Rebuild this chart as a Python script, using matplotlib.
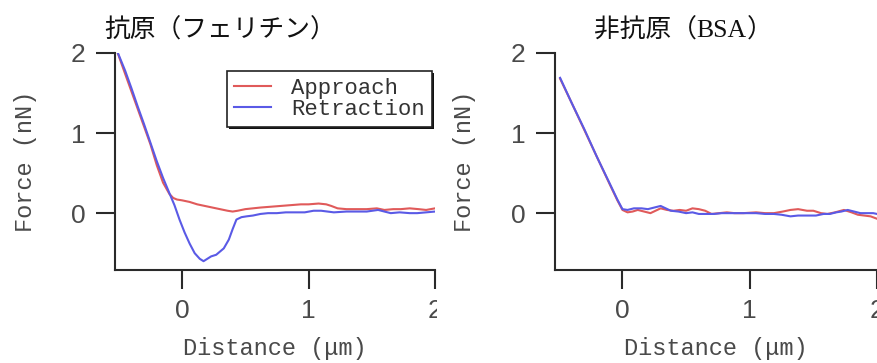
import matplotlib
matplotlib.use("Agg")
import matplotlib.pyplot as plt
from matplotlib.transforms import Bbox
from matplotlib.patches import Rectangle
from matplotlib import font_manager

# ---------------- data ----------------
# Left panel: antigen (ferritin)
appr_x_L = [-0.52, -0.45, -0.4, -0.35, -0.3, -0.25, -0.2, -0.15, -0.1, -0.07, -0.04, 0.0, 0.06, 0.12, 0.18,
            0.24, 0.3, 0.36, 0.40, 0.44, 0.5, 0.56, 0.62, 0.7, 0.78, 0.86, 0.94, 1.0, 1.08, 1.14, 1.18, 1.23,
            1.3, 1.38, 1.46, 1.54, 1.6, 1.67, 1.73, 1.8, 1.87, 1.93, 2.0]
appr_y_L = [2.05, 1.74, 1.52, 1.3, 1.08, 0.86, 0.6, 0.38, 0.24, 0.19, 0.17, 0.16, 0.14, 0.11, 0.09,
            0.07, 0.05, 0.03, 0.02, 0.03, 0.05, 0.06, 0.07, 0.08, 0.09, 0.1, 0.11, 0.11, 0.12, 0.11, 0.09, 0.06,
            0.05, 0.05, 0.05, 0.06, 0.04, 0.05, 0.05, 0.06, 0.05, 0.04, 0.06]
retr_x_L = [-0.52, -0.45, -0.4, -0.35, -0.3, -0.25, -0.2, -0.15, -0.1, -0.06, -0.02, 0.02, 0.06, 0.1, 0.14,
            0.17, 0.2, 0.23, 0.27, 0.3, 0.33, 0.37, 0.40, 0.43, 0.47, 0.51, 0.56, 0.62, 0.68, 0.75, 0.82, 0.9,
            0.97, 1.04, 1.1, 1.2, 1.3, 1.38, 1.46, 1.55, 1.6, 1.65, 1.72, 1.8, 1.86, 1.93, 2.0]
retr_y_L = [2.05, 1.78, 1.56, 1.33, 1.11, 0.88, 0.65, 0.44, 0.25, 0.1, -0.08, -0.24, -0.38, -0.5, -0.57,
            -0.6, -0.57, -0.54, -0.52, -0.48, -0.44, -0.33, -0.2, -0.08, -0.05, -0.04, -0.03, -0.01, 0.0, 0.0,
            0.01, 0.01, 0.01, 0.03, 0.03, 0.01, 0.02, 0.02, 0.02, 0.04, 0.02, 0.0, 0.01, 0.0, 0.0, 0.01, 0.02]

# Right panel: non-antigen (BSA)
appr_x_R = [-0.49, -0.4, -0.3, -0.2, -0.1, -0.04, 0.0, 0.04, 0.08, 0.12, 0.17, 0.22, 0.26, 0.3, 0.35, 0.4,
            0.45, 0.5, 0.55, 0.6, 0.65, 0.7, 0.76, 0.82, 0.88, 0.95, 1.05, 1.12, 1.19, 1.26, 1.32, 1.38, 1.45,
            1.5, 1.56, 1.61, 1.67, 1.74, 1.8, 1.85, 1.9, 1.95, 2.0]
appr_y_R = [1.68, 1.38, 1.04, 0.7, 0.36, 0.16, 0.04, 0.01, 0.02, 0.04, 0.02, 0.0, 0.03, 0.06, 0.04, 0.03,
            0.04, 0.03, 0.06, 0.05, 0.03, -0.01, 0.0, 0.01, 0.0, 0.0, 0.01, 0.0, 0.0, 0.02, 0.04, 0.05, 0.03,
            0.03, 0.0, -0.01, 0.01, 0.04, 0.01, -0.02, -0.03, -0.04, -0.07]
retr_x_R = [-0.49, -0.4, -0.3, -0.2, -0.1, -0.04, 0.0, 0.04, 0.09, 0.15, 0.2, 0.25, 0.3, 0.34, 0.38, 0.44,
            0.5, 0.55, 0.6, 0.66, 0.72, 0.78, 0.84, 0.9, 0.96, 1.05, 1.12, 1.19, 1.25, 1.32, 1.38, 1.45, 1.52,
            1.58, 1.63, 1.68, 1.72, 1.77, 1.82, 1.87, 1.92, 1.97, 2.0]
retr_y_R = [1.69, 1.38, 1.05, 0.7, 0.37, 0.17, 0.05, 0.04, 0.06, 0.06, 0.05, 0.07, 0.09, 0.06, 0.03, 0.02,
            0.0, 0.01, -0.01, -0.01, -0.01, 0.0, 0.0, 0.0, 0.0, 0.0, -0.01, -0.01, -0.02, -0.04, -0.03, -0.03,
            -0.03, -0.01, -0.01, 0.01, 0.02, 0.04, 0.02, 0.0, 0.0, 0.0, -0.01]

x_ticks = [0, 1, 2]
y_ticks = [0, 1, 2]
x_label = "Distance (\u03bcm)"
y_label = "Force (nN)"
legend_labels = ["Approach", "Retraction"]
title_L = "抗原（フェリチン）"
title_R_parts = ["非抗原（", "BSA", "）"]

# ---------------- style ----------------
W, H = 878, 363
RED = "#e05a5a"
BLUE = "#5a5ae6"
AXC = "#2a2a2a"
TXC = "#4a4a4a"
MONO = "Liberation Mono"
CJK = ["Noto Sans CJK JP", "DejaVu Sans"]
available = {f.name for f in font_manager.fontManager.ttflist}
DIGIT = "Liberation Sans Narrow" if "Liberation Sans Narrow" in available else "Liberation Sans"

fig = plt.figure(figsize=(W / 100, H / 100), dpi=100)
fig.patch.set_facecolor("white")


def px_axes(x0, x1, ytop, ybot):
    return fig.add_axes([x0 / W, 1 - ybot / H, (x1 - x0) / W, (ybot - ytop) / H])


def style(ax):
    ax.set_xlim(-0.53, 2.0)
    ax.set_ylim(-0.71, 2.0)
    for s in ["top", "right"]:
        ax.spines[s].set_visible(False)
    for s in ["left", "bottom"]:
        ax.spines[s].set_color(AXC)
        ax.spines[s].set_linewidth(1.5)
    ax.set_xticks(x_ticks)
    ax.set_yticks(y_ticks)
    ax.tick_params(direction="out", length=14, width=1.5, color=AXC,
                   labelcolor=TXC, labelsize=19, pad=7)
    for lab in ax.get_xticklabels() + ax.get_yticklabels():
        lab.set_fontfamily(DIGIT)
    ax.set_xlabel(x_label, fontsize=17, family=MONO, color=TXC)
    ax.set_ylabel(y_label, fontsize=17, family=MONO, color=TXC)
    ax.xaxis.set_label_coords(0.5, -0.31)
    ax.yaxis.set_label_coords(-0.245, 0.5)
    ax.set_facecolor("white")


axL = px_axes(115, 435, 53, 270)
axR = px_axes(555, 877, 53, 270)

for ax, (axx, axy, rxx, rxy) in [
    (axL, (appr_x_L, appr_y_L, retr_x_L, retr_y_L)),
    (axR, (appr_x_R, appr_y_R, retr_x_R, retr_y_R)),
]:
    style(ax)
    ax.plot(axx, axy, color=RED, lw=1.5, label=legend_labels[0])
    ax.plot(rxx, rxy, color=BLUE, lw=1.5, label=legend_labels[1])

leg = axL.legend(loc="upper right", bbox_to_anchor=(0.99, 0.915), frameon=True, fancybox=False,
                 prop={"family": MONO, "size": 16}, handlelength=1.7, handletextpad=0.9,
                 borderpad=0.3, labelspacing=0.0, borderaxespad=0.0)
leg.get_frame().set_edgecolor("#222222")
leg.get_frame().set_linewidth(1.2)
leg.get_frame().set_facecolor("white")
leg.get_frame().set_alpha(1.0)
for t in leg.get_texts():
    t.set_color("#333333")

fig.canvas.draw()
renderer = fig.canvas.get_renderer()

# drop shadow for legend (thin, offset right/down)
bb = leg.get_frame().get_window_extent(renderer)
shadow = Rectangle((bb.x0 + 2, bb.y0 - 2), bb.width, bb.height, transform=None,
                   facecolor="#111111", edgecolor="none", zorder=leg.get_zorder() - 0.1)
axL.add_artist(shadow)
shadow.set_clip_on(False)

# clip the left panel's last tick label as in the reference
clipbox = Bbox.from_extents(0, 0, 437, H)
for lab in axL.get_xticklabels():
    lab.set_clip_box(clipbox)
    lab.set_clip_on(True)

# titles
fig.text(220 / W, 1 - 31 / H, title_L, ha="center", va="center", fontsize=18.5, family=CJK,
         weight="normal", color="#111111")

fams = [CJK, ["Liberation Serif"], CJK]
texts = []
for part, fam in zip(title_R_parts, fams):
    texts.append(fig.text(0, 1 - 31 / H, part, ha="left", va="center", fontsize=18.5, family=fam,
                          weight="normal", color="#111111"))
widths = [t.get_window_extent(renderer).width for t in texts]
x = 683 - sum(widths) / 2
for t, w in zip(texts, widths):
    t.set_x(x / W)
    x += w

fig.savefig("out.png", dpi=100, facecolor="white")
